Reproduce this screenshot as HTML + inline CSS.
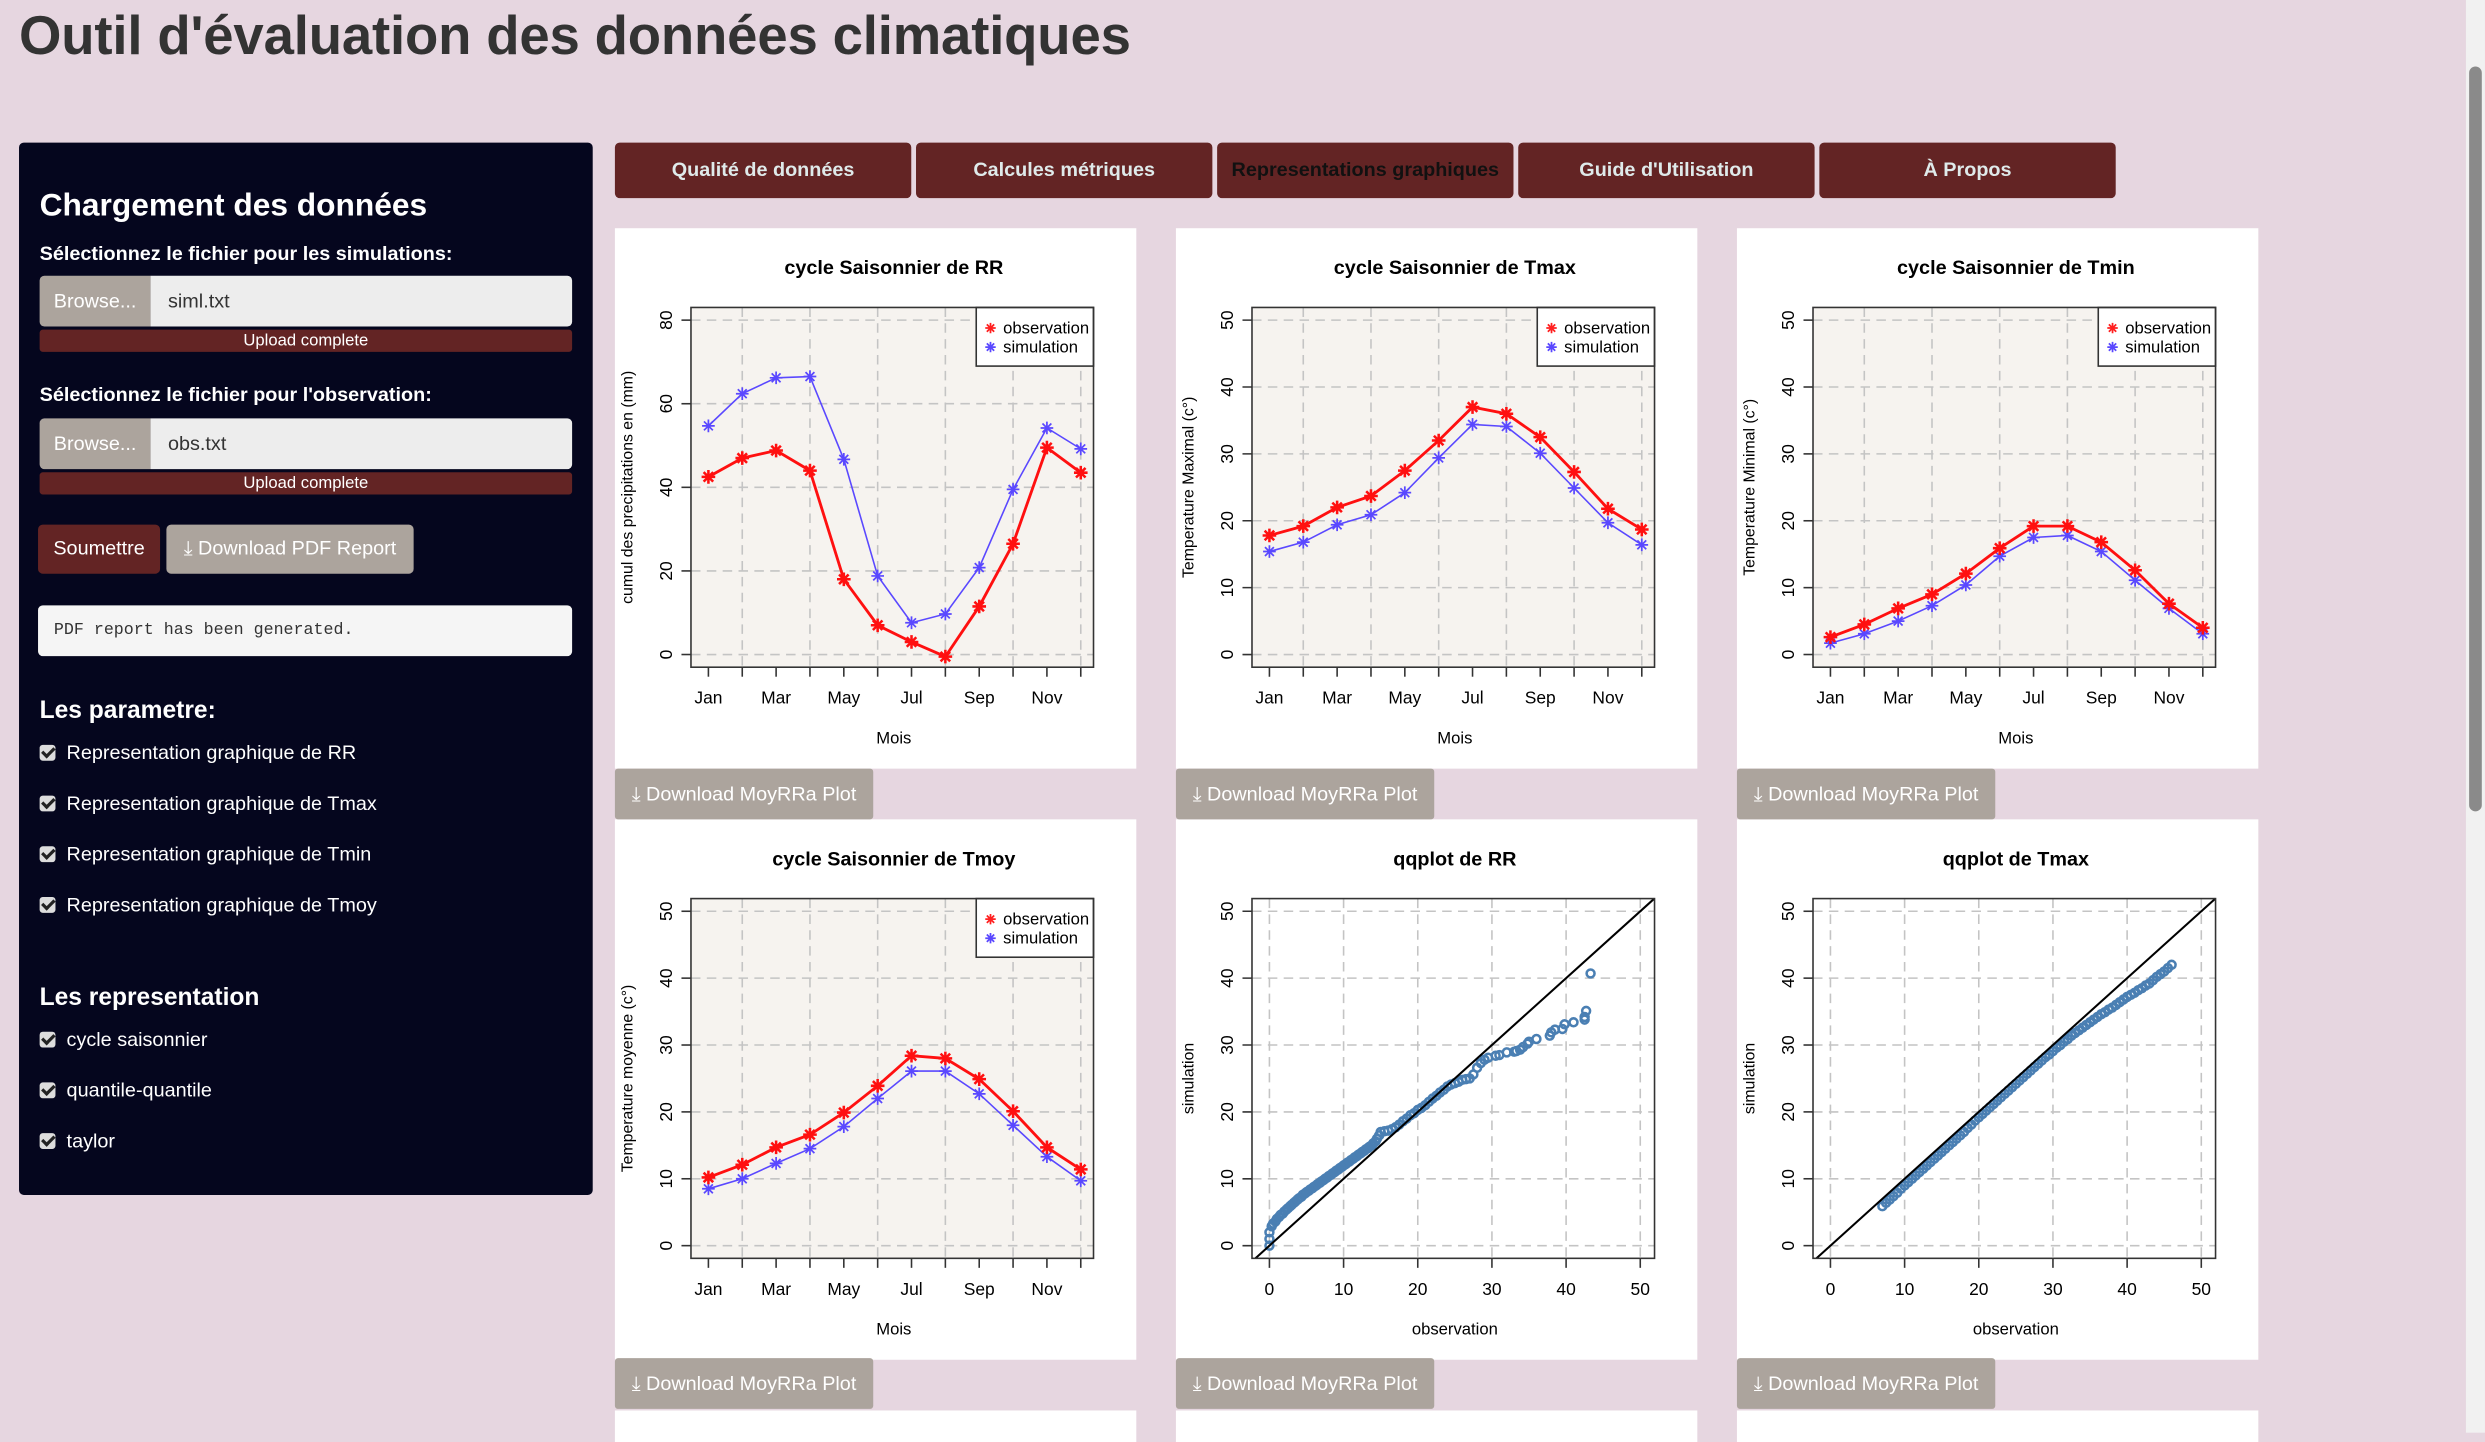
<!DOCTYPE html>
<html><head><meta charset="utf-8">
<style>
html,body{margin:0;padding:0;overflow:hidden;background:#e6d6e0;}
#wrap{position:absolute;left:0;top:0;width:1568px;height:904px;transform:scale(1.5848);transform-origin:0 0;font-family:"Liberation Sans",Arial,sans-serif;}
.abs{position:absolute;}
h1{position:absolute;left:12px;top:4px;margin:0;font-size:34.4px;font-weight:bold;color:#333;letter-spacing:-0.1px;}
#side{left:12px;top:90px;width:362px;height:664px;background:#05061e;border-radius:3px;color:#fff;}
.tab{position:absolute;top:90px;width:187px;height:35px;background:#632424;border-radius:3px;color:#dfeaea;font-weight:bold;font-size:12.5px;text-align:center;line-height:35px;}
.panel{position:absolute;width:329px;height:341px;background:#fff;}
.dl{position:absolute;width:163px;height:32px;background:#aca49d;color:#fff;font-size:12.5px;line-height:32px;text-align:center;border-radius:2px;}
.lbl{position:absolute;left:13px;font-weight:bold;font-size:12.5px;}
.browse{position:absolute;left:13px;width:70px;height:32px;background:#aca49d;color:#fff;font-size:12.5px;line-height:32px;text-align:center;border-radius:3px 0 0 3px;}
.fin{position:absolute;left:83px;width:266px;height:32px;background:#ededed;color:#333;font-size:12.5px;line-height:32px;padding-left:11px;box-sizing:border-box;border-radius:0 3px 3px 0;}
.bar{position:absolute;left:13px;width:336px;height:14px;background:#632424;color:#fff;font-size:10.5px;line-height:14px;text-align:center;border-radius:2px;}
.chk{position:absolute;left:13px;font-size:12.5px;color:#fff;}
.chk i{display:inline-block;width:10px;height:10px;background:#ddd;border-radius:2px;margin-right:7px;vertical-align:-1px;position:relative;}
.chk i:after{content:"";position:absolute;left:3px;top:0px;width:3px;height:6px;border:solid #222;border-width:0 2px 2px 0;transform:rotate(45deg);}
</style></head><body>
<div id="wrap">
<h1>Outil d'évaluation des données climatiques</h1>

<div id="side" class="abs">
 <div class="abs" style="left:13px;top:29px;font-size:20px;font-weight:bold;">Chargement des données</div>
 <div class="lbl" style="top:63px">Sélectionnez le fichier pour les simulations:</div>
 <div class="browse" style="top:84px">Browse...</div>
 <div class="fin" style="top:84px">siml.txt</div>
 <div class="bar" style="top:118px">Upload complete</div>
 <div class="lbl" style="top:152px">Sélectionnez le fichier pour l'observation:</div>
 <div class="browse" style="top:174px">Browse...</div>
 <div class="fin" style="top:174px">obs.txt</div>
 <div class="bar" style="top:208px">Upload complete</div>
 <div class="abs" style="left:12px;top:241px;width:77px;height:31px;background:#632424;border-radius:3px;font-size:12.5px;line-height:31px;text-align:center;">Soumettre</div>
 <div class="abs" style="left:93px;top:241px;width:156px;height:31px;background:#aca49d;border-radius:3px;font-size:12.5px;line-height:31px;text-align:center;">⤓ Download PDF Report</div>
 <div class="abs" style="left:12px;top:292px;width:337px;height:32px;background:#f5f5f5;border-radius:3px;color:#333;font-family:'Liberation Mono',monospace;font-size:10.5px;line-height:32px;padding-left:10px;box-sizing:border-box;">PDF report has been generated.</div>
 <div class="abs" style="left:13px;top:350px;font-size:15.5px;font-weight:bold;">Les parametre:</div>
 <div class="chk" style="top:378px"><i></i>Representation graphique de RR</div>
 <div class="chk" style="top:410px"><i></i>Representation graphique de Tmax</div>
 <div class="chk" style="top:442px"><i></i>Representation graphique de Tmin</div>
 <div class="chk" style="top:474px"><i></i>Representation graphique de Tmoy</div>
 <div class="abs" style="left:13px;top:531px;font-size:15.5px;font-weight:bold;">Les representation</div>
 <div class="chk" style="top:559px"><i></i>cycle saisonnier</div>
 <div class="chk" style="top:591px"><i></i>quantile-quantile</div>
 <div class="chk" style="top:623px"><i></i>taylor</div>
</div>

<div class="tab" style="left:388px">Qualité de données</div>
<div class="tab" style="left:578px">Calcules métriques</div>
<div class="tab" style="left:768px;color:#111">Representations graphiques</div>
<div class="tab" style="left:958px">Guide d'Utilisation</div>
<div class="tab" style="left:1148px">À Propos</div>

<div class="panel" style="left:388px;top:144px"><svg id="c1" width="329" height="341"></svg></div>
<div class="panel" style="left:742px;top:144px"><svg id="c2" width="329" height="341"></svg></div>
<div class="panel" style="left:1096px;top:144px"><svg id="c3" width="329" height="341"></svg></div>
<div class="panel" style="left:388px;top:517px"><svg id="c4" width="329" height="341"></svg></div>
<div class="panel" style="left:742px;top:517px"><svg id="c5" width="329" height="341"></svg></div>
<div class="panel" style="left:1096px;top:517px"><svg id="c6" width="329" height="341"></svg></div>
<div class="panel" style="left:388px;top:890px;height:20px"></div>
<div class="panel" style="left:742px;top:890px;height:20px"></div>
<div class="panel" style="left:1096px;top:890px;height:20px"></div>

<div class="dl" style="left:388px;top:485px">⤓ Download MoyRRa Plot</div>
<div class="dl" style="left:742px;top:485px">⤓ Download MoyRRa Plot</div>
<div class="dl" style="left:1096px;top:485px">⤓ Download MoyRRa Plot</div>
<div class="dl" style="left:388px;top:857px">⤓ Download MoyRRa Plot</div>
<div class="dl" style="left:742px;top:857px">⤓ Download MoyRRa Plot</div>
<div class="dl" style="left:1096px;top:857px">⤓ Download MoyRRa Plot</div>

<div class="abs" style="left:1556px;top:0;width:12px;height:904px;background:#f1f1f1">
 <div class="abs" style="left:2px;top:42px;width:8px;height:470px;background:#8a8a8a;border-radius:4px"></div>
</div>
</div>

<script>
const months = ['Jan','Feb','Mar','Apr','May','Jun','Jul','Aug','Sep','Oct','Nov','Dec'];
const monthLabels = ['Jan','','Mar','','May','','Jul','','Sep','','Nov',''];
const rrObs = [42.5,47,48.8,44,18,7,3,-0.5,11.5,26.5,49.5,43.5];
const rrSim = [54.7,62.4,66.2,66.5,46.7,18.8,7.6,9.7,20.8,39.5,54.2,49.2];
const rrTicks = [0,20,40,60,80];
const tmaxObs = [17.8,19.2,22,23.7,27.5,32,37,36,32.5,27.3,21.8,18.7];
const tmaxSim = [15.4,16.8,19.4,20.9,24.2,29.4,34.4,34.1,30.1,24.9,19.7,16.4];
const tminObs = [2.6,4.5,6.9,9,12.1,15.9,19.2,19.2,16.8,12.6,7.6,4];
const tminSim = [1.7,3.1,5,7.3,10.4,14.7,17.5,17.8,15.4,11.1,6.9,3.1];
const tmoyObs = [10.2,12.1,14.7,16.6,19.9,23.9,28.4,28,24.9,20.1,14.7,11.4];
const tmoySim = [8.5,10,12.3,14.5,17.8,22,26.1,26.1,22.7,18,13.3,9.7];
const tempTicks = [0,10,20,30,40,50];
const qqTicks = [0,10,20,30,40,50];
const qqRrObs = [0,0,0,0.3,0.5,0.8,
 1,1.3,1.5,1.8, 2,2.3,2.5,2.8, 3,3.3,3.5,3.8, 4,4.3,4.5,4.8, 5,5.3,5.5,5.8, 6,6.3,6.5,6.8, 7,7.3,7.5,7.8,
 8,8.3,8.5,8.8, 9,9.3,9.5,9.8, 10,10.3,10.5,10.8, 11,11.3,11.5,11.8, 12,12.3,12.5,12.8, 13,13.3,13.5,13.8, 14,14.3,14.5,14.8,
 15,15.5,16,16.5,17,17.5,18,18.5,19,19.5,20,20.5,21,21.5,22,22.5,23,23.5,24,24.5,25,25.5,26,26.5,27,27.5,28,28.5,29,29.5,
 30.5,31,32,33,33.3,33.8,34.2,34.8,35,36,37.8,38,38.5,39.5,39.8,41,42.5,42.5,42.7,43.3];
const qqRrSim = [0,1,2,2.9,3.3,3.6,
 4,4.3,4.6,4.8, 5.1,5.4,5.6,5.9, 6.1,6.4,6.6,6.9, 7.1,7.3,7.6,7.8, 8,8.2,8.4,8.6, 8.8,9,9.2,9.4, 9.6,9.8,10,10.2,
 10.4,10.6,10.8,11, 11.2,11.4,11.6,11.8, 12,12.2,12.4,12.6, 12.8,13,13.2,13.4, 13.6,13.8,14,14.2, 14.4,14.6,14.8,15, 15.3,15.6,16,16.5,
 17,17.1,17.2,17.4,17.7,18.1,18.6,19,19.5,19.8,20.3,20.6,21,21.5,22,22.4,22.9,23.3,23.8,24.1,24.3,24.5,24.8,24.9,25,25.6,26.6,27.3,27.8,28.1,
 28.4,28.5,28.9,29,29.1,29.3,29.7,30.2,30.5,30.9,31.4,31.9,32.3,32.4,33.1,33.4,33.8,34.2,35.1,40.7];
const qqTxObs = [7,7.5,8,8.5,9,9.5,10,10.5,11,11.5,12,12.5,13,13.5,14,14.5,15,15.5,16,16.5,17,17.5,18,18.5,19,19.5,20,20.5,21,21.5,22,22.5,23,23.5,24,24.5,25,25.5,26,26.5,27,27.5,28,28.5,29,29.5,30,30.5,31,31.5,32,32.5,33,33.5,34,34.5,35,35.5,36,36.5,37,37.5,38,38.5,39,39.5,40,40.5,41,41.5,42,42.5,43,43.5,44,44.5,45,45.5,46];
const qqTxSim = [5.9,6.4,6.9,7.4,7.9,8.5,9,9.5,10,10.5,11,11.5,12,12.5,13,13.5,14,14.5,15,15.5,16,16.5,17,17.6,18.1,18.7,19.2,19.7,20.2,20.7,21.2,21.7,22.2,22.7,23.2,23.7,24.2,24.7,25.2,25.7,26.2,26.7,27.2,27.7,28.2,28.6,29.1,29.6,30,30.5,30.9,31.4,31.8,32.2,32.6,33,33.4,33.8,34.2,34.6,34.9,35.3,35.6,36,36.4,36.8,37.2,37.5,37.8,38.2,38.5,38.9,39.2,39.7,40.2,40.6,41,41.5,42];

const NS='http://www.w3.org/2000/svg';
function el(p,tag,attrs,txt){const e=document.createElementNS(NS,tag);for(const k in attrs)e.setAttribute(k,attrs[k]);if(txt!==undefined)e.textContent=txt;p.appendChild(e);return e;}
const PL=48,PR=302,PT=50,PB=277;
function star(g,x,y,c,s){
  const d=`M${x-s},${y}H${x+s}M${x},${y-s}V${y+s}M${x-s*.7},${y-s*.7}L${x+s*.7},${y+s*.7}M${x-s*.7},${y+s*.7}L${x+s*.7},${y-s*.7}`;
  return el(g,'path',{d:d,stroke:c,'stroke-width':1.1,fill:'none'});
}
function frame(svg,title,bg,yTicks,ySc,yLabel){
  el(svg,'rect',{x:PL,y:PT,width:PR-PL,height:PB-PT,fill:bg});
  el(svg,'text',{x:176,y:29,'text-anchor':'middle','font-size':12.5,'font-weight':'bold','font-family':'Liberation Sans'},title);
  yTicks.forEach(t=>{
    const y=ySc(t);
    el(svg,'line',{x1:PL,x2:PR,y1:y,y2:y,stroke:'#c4c4c4','stroke-dasharray':'6,4','stroke-width':1});
    el(svg,'line',{x1:PL-6,x2:PL,y1:y,y2:y,stroke:'#333'});
    const tx=el(svg,'text',{x:36,y:y,'text-anchor':'middle','font-size':11,transform:`rotate(-90 36 ${y})`,'font-family':'Liberation Sans'},String(t));
    
  });
  const my=(PT+PB)/2;
  const yl=el(svg,'text',{x:11,y:my,'text-anchor':'middle','font-size':10,transform:`rotate(-90 11 ${my})`,'font-family':'Liberation Sans'},yLabel);
  
}
function border(svg){el(svg,'rect',{x:PL,y:PT,width:PR-PL,height:PB-PT,fill:'none',stroke:'#333','stroke-width':1});}

function drawCycle(id,title,obs,sim,yTicks,yLabel){
  const svg=document.getElementById(id);
  const top=yTicks[yTicks.length-1];
  const ySc=v=>269-v/top*211;
  const xSc=i=>59+i*21.36;
  frame(svg,title,'#f6f3ef',yTicks,ySc,yLabel);
  months.forEach((m,i)=>{
    const x=xSc(i);
    if(i%2==1) el(svg,'line',{x1:x,x2:x,y1:PT,y2:PB,stroke:'#c4c4c4','stroke-dasharray':'6,4'});
    el(svg,'line',{x1:x,x2:x,y1:PB,y2:PB+6,stroke:'#333'});
    if(monthLabels[i]){const t=el(svg,'text',{x:x,y:300,'text-anchor':'middle','font-size':11,'font-family':'Liberation Sans'},monthLabels[i]);}
  });
  const xt=el(svg,'text',{x:176,y:325,'text-anchor':'middle','font-size':10.5,'font-family':'Liberation Sans'},'Mois');
  
  const so=el(svg,'polyline',{points:sim.map((v,i)=>xSc(i)+','+ySc(v)).join(' '),fill:'none',stroke:'#5a48ff','stroke-width':1});
  
  sim.forEach((v,i)=>{const p=star(svg,xSc(i),ySc(v),'#5a48ff',4);});
  const ob=el(svg,'polyline',{points:obs.map((v,i)=>xSc(i)+','+ySc(v)).join(' '),fill:'none',stroke:'#ff1010','stroke-width':1.8});
  
  obs.forEach((v,i)=>{const p=star(svg,xSc(i),ySc(v),'#ff1010',4.3);p.setAttribute('stroke-width',1.6);});
  const lg=el(svg,'g',{});
  
  el(lg,'rect',{x:228,y:PT,width:PR-228,height:37,fill:'#fff',stroke:'#333'});
  star(lg,237,63,'#ff2020',3.3);
  el(lg,'text',{x:245,y:66.5,'font-size':10.5,'font-family':'Liberation Sans'},'observation');
  star(lg,237,75,'#5a48ff',3.3);
  el(lg,'text',{x:245,y:78.5,'font-size':10.5,'font-family':'Liberation Sans'},'simulation');
  border(svg);
}
function drawQQ(id,title,obs,sim,ticks){
  const svg=document.getElementById(id);
  const ySc=v=>269-v/50*211;
  const xSc=v=>59+v*4.68;
  frame(svg,title,'#ffffff',ticks,ySc,'simulation');
  ticks.forEach(t=>{
    const x=xSc(t);
    el(svg,'line',{x1:x,x2:x,y1:PT,y2:PB,stroke:'#c4c4c4','stroke-dasharray':'6,4'});
    el(svg,'line',{x1:x,x2:x,y1:PB,y2:PB+6,stroke:'#333'});
    const tl=el(svg,'text',{x:x,y:300,'text-anchor':'middle','font-size':11,'font-family':'Liberation Sans'},String(t));
    
  });
  const xt=el(svg,'text',{x:176,y:325,'text-anchor':'middle','font-size':10.5,'font-family':'Liberation Sans'},'observation');
  
  const n=Math.min(obs.length,sim.length);
  for(let i=0;i<n;i++){
    const c=el(svg,'circle',{cx:xSc(obs[i]),cy:ySc(sim[i]),r:2.5,fill:'none',stroke:'#4a7fb3','stroke-width':1.6});
    
  }
  const vmin=Math.max((PL-59)/4.68,(269-PB)/4.22), vmax=Math.min((PR-59)/4.68,(269-PT)/4.22);
  const ln=el(svg,'line',{x1:xSc(vmin),y1:ySc(vmin),x2:xSc(vmax),y2:ySc(vmax),stroke:'#000','stroke-width':1.3});
  
  border(svg);
}
drawCycle('c1','cycle Saisonnier de RR',rrObs,rrSim,rrTicks,'cumul des precipitations en (mm)');
drawCycle('c2','cycle Saisonnier de Tmax',tmaxObs,tmaxSim,tempTicks,'Temperature Maximal (c°)');
drawCycle('c3','cycle Saisonnier de Tmin',tminObs,tminSim,tempTicks,'Temperature Minimal (c°)');
drawCycle('c4','cycle Saisonnier de Tmoy',tmoyObs,tmoySim,tempTicks,'Temperature moyenne (c°)');
drawQQ('c5','qqplot de RR',qqRrObs,qqRrSim,qqTicks);
drawQQ('c6','qqplot de Tmax',qqTxObs,qqTxSim,qqTicks);
</script>
</body></html>
